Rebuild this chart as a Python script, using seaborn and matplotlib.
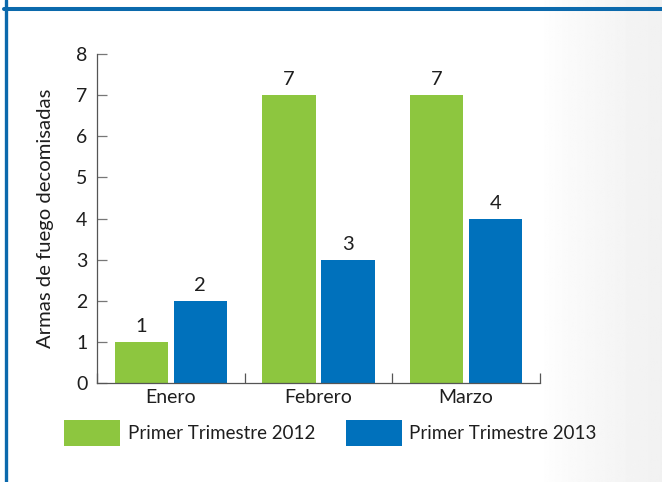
import matplotlib
matplotlib.use("Agg")
import matplotlib.pyplot as plt
import seaborn as sns
import numpy as np
import pandas as pd
from matplotlib.lines import Line2D

# ---- data ----
months = ["Enero", "Febrero", "Marzo"]
series_names = ["Primer Trimestre 2012", "Primer Trimestre 2013"]
values_2012 = [1, 7, 7]
values_2013 = [2, 3, 4]
y_ticks = [0, 1, 2, 3, 4, 5, 6, 7, 8]
y_label = "Armas de fuego decomisadas"

green = "#8DC63F"
blue = "#0071BC"
frame_blue = "#0B69AC"
text_c = "#1E1E1E"

df = pd.DataFrame({
    "mes": months * 2,
    "serie": [series_names[0]] * 3 + [series_names[1]] * 3,
    "valor": values_2012 + values_2013,
})

sns.set_theme(style="white")
plt.rcParams["font.family"] = ["Lato", "DejaVu Sans"]

W, H = 662, 482
fig = plt.figure(figsize=(W / 100, H / 100), dpi=100)
fig.patch.set_facecolor("white")

# background with light gradient on the right
bg = fig.add_axes([0, 0, 1, 1], zorder=-10)
xs = np.linspace(0, 1, 400)
grad = np.where(xs < 0.82, 1.0, 1.0 - 0.055 * ((xs - 0.82) / 0.18) ** 0.7)
img = np.tile(grad, (10, 1))
bg.imshow(img, cmap="gray", vmin=0, vmax=1, aspect="auto", extent=[0, 1, 0, 1])
bg.set_axis_off()

# frame lines
fig.add_artist(Line2D([5.5 / W, 5.5 / W], [0, 1], color=frame_blue, lw=2.4,
                      transform=fig.transFigure))
fig.add_artist(Line2D([4 / W, 1], [1 - 8.7 / H, 1 - 8.7 / H], color=frame_blue,
                      lw=2.9, transform=fig.transFigure))

ax = fig.add_axes([97 / W, 1 - 383 / H, (540 - 97) / W, (383 - 54) / H])
ax.set_facecolor("none")

sns.barplot(data=df, x="mes", y="valor", hue="serie", order=months,
            hue_order=series_names, palette={series_names[0]: green, series_names[1]: blue},
            saturation=1, width=0.8, gap=0.1, ax=ax, edgecolor="none", linewidth=0)

for cont in ax.containers:
    ax.bar_label(cont, labels=[str(int(v)) for v in cont.datavalues], padding=5,
                 fontsize=14.5, color=text_c)

ax.set_xlim(-0.5, 2.5)
ax.set_ylim(0, 8)
ax.set_yticks(y_ticks)
ax.set_xlabel("")
ax.set_ylabel(y_label, fontsize=14.6, color=text_c)
ax.yaxis.set_label_coords(-0.098, 0.5)

for s in ["top", "right"]:
    ax.spines[s].set_visible(False)
for s in ["left", "bottom"]:
    ax.spines[s].set_color("#555555")
    ax.spines[s].set_linewidth(0.9)

ax.tick_params(axis="y", direction="in", length=7, width=0.9, color="#777777",
               pad=7, labelsize=14, labelcolor=text_c, left=True)
ax.tick_params(axis="x", which="major", length=0, pad=4, labelsize=14, labelcolor=text_c)
ax.set_xticks([-0.5, 0.5, 1.5, 2.5], minor=True)
ax.tick_params(axis="x", which="minor", direction="in", length=7, width=0.9,
               color="#555555", bottom=True)

handles, labels = ax.get_legend_handles_labels()
if ax.get_legend() is not None:
    ax.get_legend().remove()
fs = 13.5
leg = fig.legend(handles, labels, ncol=2, loc="upper left",
                 bbox_to_anchor=(64 / W, 1 - 420 / H), frameon=False,
                 borderpad=0, borderaxespad=0, fontsize=fs,
                 handlelength=56 / (fs * 100 / 72), handleheight=33 / (fs * 100 / 72),
                 handletextpad=0.4, columnspacing=1.65)
for t in leg.get_texts():
    t.set_color(text_c)

fig.savefig("out.png", dpi=100, facecolor=fig.get_facecolor())
